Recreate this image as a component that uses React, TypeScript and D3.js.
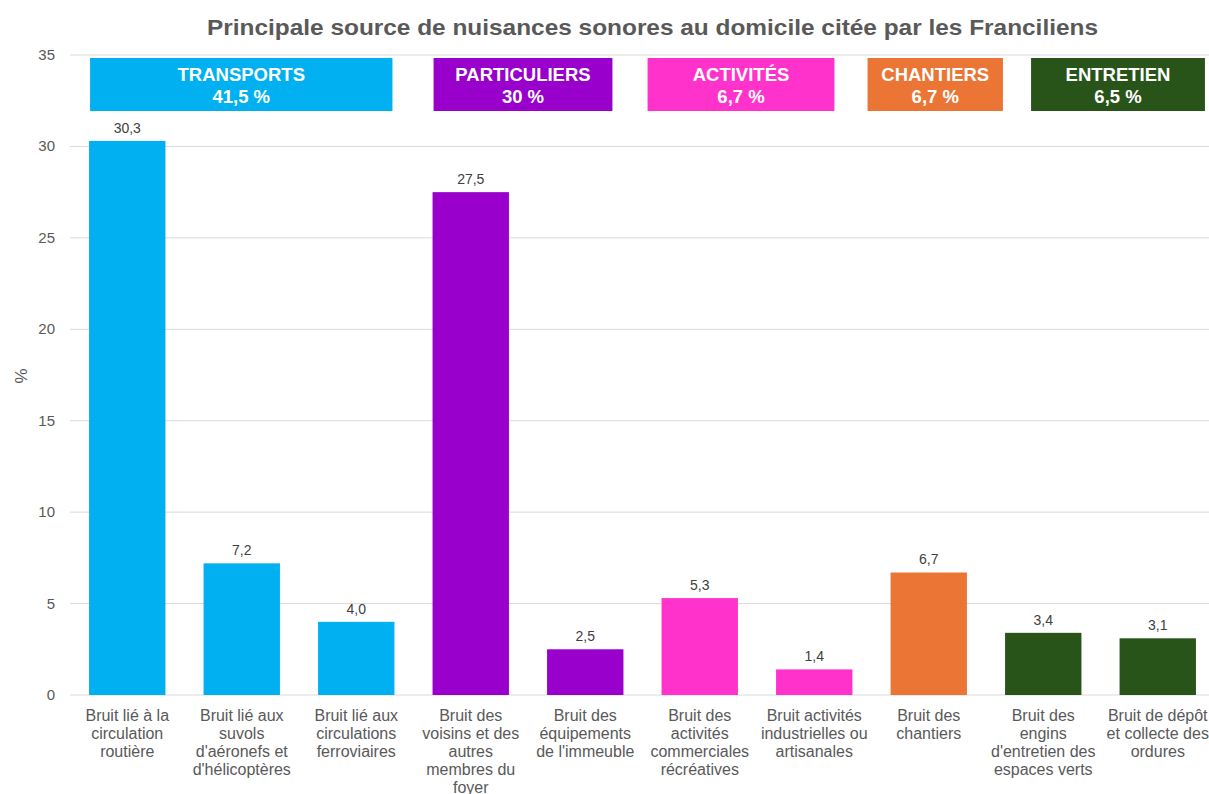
import React from 'react';
import * as d3 from 'd3';

// values
const categories = [
  ['Bruit lié à la', 'circulation', 'routière'],
  ['Bruit lié aux', 'suvols', "d'aéronefs et", "d'hélicoptères"],
  ['Bruit lié aux', 'circulations', 'ferroviaires'],
  ['Bruit des', 'voisins et des', 'autres', 'membres du', 'foyer'],
  ['Bruit des', 'équipements', "de l'immeuble"],
  ['Bruit des', 'activités', 'commerciales', 'récréatives'],
  ['Bruit activités', 'industrielles ou', 'artisanales'],
  ['Bruit des', 'chantiers'],
  ['Bruit des', 'engins', "d'entretien des", 'espaces verts'],
  ['Bruit de dépôt', 'et collecte des', 'ordures'],
];
const values = [30.3, 7.2, 4.0, 27.5, 2.5, 5.3, 1.4, 6.7, 3.4, 3.1];
const barGroup = [0, 0, 0, 1, 1, 2, 2, 3, 4, 4];

const groupNames = ['TRANSPORTS', 'PARTICULIERS', 'ACTIVITÉS', 'CHANTIERS', 'ENTRETIEN'];
const groupShares = ['41,5 %', '30 %', '6,7 %', '6,7 %', '6,5 %'];
const groupColors = ['#00B0F0', '#9900CC', '#FF33CC', '#EB7535', '#285419'];

const yTicks = [0, 5, 10, 15, 20, 25, 30, 35];

// header boxes: first/last bar covered, plus pixel tweaks from the picture
const boxSpan = [
  { first: 0, last: 2, dl: 1, dr: -2 },
  { first: 3, last: 4, dl: 1, dr: -11 },
  { first: 5, last: 6, dl: -14, dr: -18 },
  { first: 7, last: 7, dl: -23, dr: 36 },
  { first: 8, last: 9, dl: 26, dr: 9 },
];

const W = 1209;
const H = 794;
const left = 70;
const right = 1209;
const top = 55;
const bottom = 695;

const font = 'Arial, "Liberation Sans", sans-serif';

export default function App() {
  const x = d3
    .scaleBand<number>()
    .domain(d3.range(values.length))
    .range([left, 1215])
    .paddingInner(0.333)
    .paddingOuter(0.1665);
  const y = d3.scaleLinear().domain([0, 35]).range([bottom, top]);
  const fmt = (v: number) => v.toFixed(1).replace('.', ',');

  return (
    <svg width={W} height={H} style={{ position: 'absolute', left: 0, top: 0 }} fontFamily={font}>
      <rect width={W} height={H} fill="#fff" />
      <text
        x={652.5}
        y={35}
        textAnchor="middle"
        fontSize={22}
        fontWeight="bold"
        fill="#595959"
        textLength={891}
        lengthAdjust="spacingAndGlyphs"
      >
        Principale source de nuisances sonores au domicile citée par les Franciliens
      </text>

      {yTicks.map((t) => (
        <g key={t}>
          <line x1={left} x2={right} y1={y(t)} y2={y(t)} stroke="#D9D9D9" strokeWidth={1} />
          <text x={55} y={y(t) + 5} textAnchor="end" fontSize={15} fill="#595959">
            {t}
          </text>
        </g>
      ))}

      <text
        transform={`translate(27,376) rotate(-90)`}
        textAnchor="middle"
        fontSize={17}
        fill="#595959"
      >
        %
      </text>

      {values.map((v, i) => {
        const bx = x(i) as number;
        const cx = bx + x.bandwidth() / 2;
        return (
          <g key={i}>
            <rect
              x={bx}
              y={y(v)}
              width={x.bandwidth()}
              height={y(0) - y(v)}
              fill={groupColors[barGroup[i]]}
            />
            <text x={cx} y={y(v) - 8} textAnchor="middle" fontSize={14} fill="#404040">
              {fmt(v)}
            </text>
            <text textAnchor="middle" fontSize={16} fill="#595959">
              {categories[i].map((line, k) => (
                <tspan key={k} x={cx} y={721 + k * 18}>
                  {line}
                </tspan>
              ))}
            </text>
          </g>
        );
      })}

      {boxSpan.map((b, g) => {
        const x0 = (x(b.first) as number) + b.dl;
        const x1 = (x(b.last) as number) + x.bandwidth() + b.dr;
        const cx = (x0 + x1) / 2;
        return (
          <g key={g}>
            <rect x={x0} y={58} width={x1 - x0} height={53} fill={groupColors[g]} />
            <text x={cx} y={81} textAnchor="middle" fontSize={18.5} fontWeight="bold" fill="#fff">
              {groupNames[g]}
            </text>
            <text x={cx} y={103} textAnchor="middle" fontSize={18.5} fontWeight="bold" fill="#fff">
              {groupShares[g]}
            </text>
          </g>
        );
      })}
    </svg>
  );
}
